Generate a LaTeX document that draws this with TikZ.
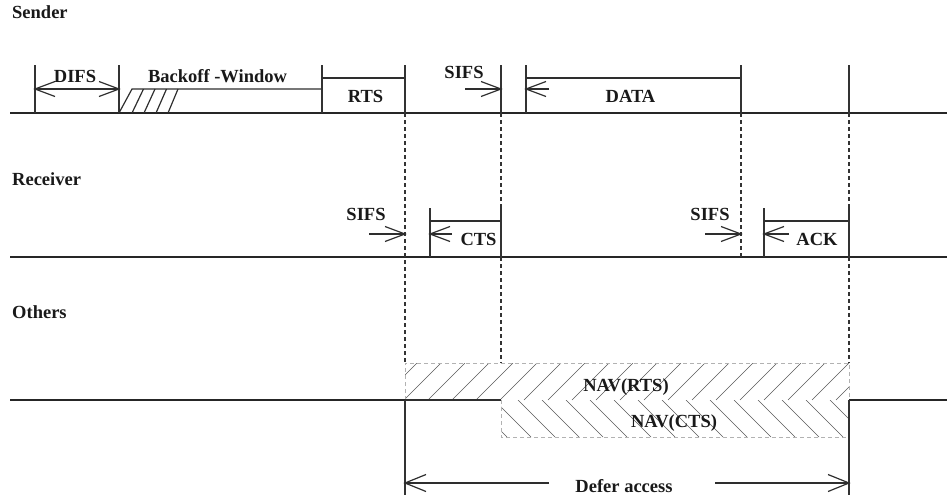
\documentclass[tikz,border=0pt]{standalone}
\usepackage{fontspec}
\setmainfont{Liberation Serif}
\begin{document}
\begin{tikzpicture}[x=1pt,y=-1pt,
  lbl/.style={font=\fontsize{18.5}{20}\selectfont\bfseries, inner sep=0pt, text=black!90, anchor=base},
  lblw/.style={lbl, anchor=base west},
  axis/.style={line width=2.4pt, black!85},
  tick/.style={line width=1.2pt, black!80},
  thinl/.style={line width=1.2pt, black!82},
  dline/.style={line width=1.2pt, black!80, dash pattern=on 4pt off 3pt},
  navb/.style={line width=0.6pt, black!30, dash pattern=on 4pt off 3pt},
  hatch/.style={line width=0.6pt, black!65},
  vright/.pic={\draw[thinl, line join=miter] (-20,-7.5) -- (0,0) -- (-20,7.5);},
  vleft/.pic={\draw[thinl, line join=miter] (20,-7.5) -- (0,0) -- (20,7.5);},
  bigright/.pic={\draw[thinl, line join=miter] (-21,-8.5) -- (0,0) -- (-21,8.5);},
  bigleft/.pic={\draw[thinl, line join=miter] (21,-8.5) -- (0,0) -- (21,8.5);},
]
\useasboundingbox (0,0) rectangle (947,499);

% ---------- named coordinates ----------
\coordinate (difsA) at (35,89);   \coordinate (difsB) at (119,89);
\coordinate (sifsS0) at (465,89); \coordinate (sifsS1) at (501,89);
\coordinate (dataT0) at (549,89); \coordinate (dataT1) at (526,89);
\coordinate (sifsR0) at (369,234);\coordinate (sifsR1) at (405,234);
\coordinate (ctsT0) at (452,234); \coordinate (ctsT1) at (430,234);
\coordinate (sifsQ0) at (705,234);\coordinate (sifsQ1) at (741,234);
\coordinate (ackT0) at (789,234); \coordinate (ackT1) at (764,234);
\coordinate (defL0) at (549,483); \coordinate (defL1) at (405,483);
\coordinate (defR0) at (715,483); \coordinate (defR1) at (849,483);

% ---------- NAV hatched areas ----------
\begin{scope}
  \clip (405,363) rectangle (849,400);
  \foreach \i in {0,...,21} \draw[hatch] (380+24*\i,400) -- ++(37,-37);
\end{scope}
\begin{scope}
  \clip (501,400) rectangle (849,437);
  \foreach \i in {0,...,16} \draw[hatch] (470+24*\i,400) -- ++(37,37);
\end{scope}
\draw[navb] (405,400) -- (405,363) -- (849,363) -- (849,400);
\draw[navb] (501,400) -- (501,437) -- (849,437);

% ---------- time lines ----------
\draw[axis] (10,113) -- (947,113);
\draw[axis] (10,257) -- (947,257);
\draw[axis] (10,400) -- (405,400);
\draw[axis] (849,400) -- (947,400);
\draw[thinl] (405,400) -- (501,400);

% ---------- dashed guides ----------
\draw[dline] (405,113) -- (405,363);
\draw[dline] (501,113) -- (501,208);
\draw[dline] (501,257) -- (501,363);
\draw[dline] (741,113) -- (741,257);
\draw[dline] (849,113) -- (849,208);
\draw[dline] (849,257) -- (849,363);

% ---------- Sender ----------
\draw[tick] (35,65) -- (35,113);
\draw[tick] (119,65) -- (119,113);
\draw[thinl] (difsA) -- (difsB);
\pic at (difsA) {vleft}; \pic at (difsB) {vright};
\draw[thinl] (119,113) -- (132,89) -- (322,89);
\foreach \i in {1,...,4} \draw[thinl] (120+12*\i,113) -- (132+11.5*\i,89);
\draw[tick] (322,65) -- (322,113);
\draw[thinl] (322,78) -- (405,78);
\draw[tick] (405,65) -- (405,113);
\draw[tick] (501,65) -- (501,113);
\draw[thinl] (sifsS0) -- (sifsS1); \pic at (sifsS1) {vright};
\draw[tick] (526,65) -- (526,113);
\draw[thinl] (526,78) -- (741,78);
\draw[tick] (741,65) -- (741,113);
\draw[thinl] (dataT0) -- (dataT1); \pic at (dataT1) {vleft};
\draw[tick] (849,65) -- (849,113);

\node[lblw] (sender) at (12,18) {Sender};
\node[lbl] (difs) at (75,82) {DIFS};
\node[lbl] (backoff) at (217.5,82) {Backoff -Window};
\node[lbl] (rts) at (365.5,102) {RTS};
\node[lbl] (sifs1) at (464,78) {SIFS};
\node[lbl] (data) at (630.5,102) {DATA};

% ---------- Receiver ----------
\draw[thinl] (sifsR0) -- (sifsR1); \pic at (sifsR1) {vright};
\draw[tick] (430,208) -- (430,257);
\draw[thinl] (430,221) -- (501,221);
\draw[tick] (501,208) -- (501,257);
\draw[thinl] (ctsT0) -- (ctsT1); \pic at (ctsT1) {vleft};
\draw[thinl] (sifsQ0) -- (sifsQ1); \pic at (sifsQ1) {vright};
\draw[tick] (764,208) -- (764,257);
\draw[thinl] (764,221) -- (849,221);
\draw[tick] (849,208) -- (849,257);
\draw[thinl] (ackT0) -- (ackT1); \pic at (ackT1) {vleft};

\node[lblw] (receiver) at (12,185) {Receiver};
\node[lbl] (sifs2) at (366,220) {SIFS};
\node[lbl] (cts) at (478.5,245) {CTS};
\node[lbl] (sifs3) at (710,220) {SIFS};
\node[lbl] (ack) at (817,245) {ACK};

% ---------- Others ----------
\node[lblw] (others) at (12,318) {Others};
\node[lbl] (navrts) at (626,391) {NAV(RTS)};
\node[lbl] (navcts) at (674,427) {NAV(CTS)};

\draw[tick] (405,400) -- (405,495);
\draw[tick] (849,400) -- (849,495);
\draw[thinl] (defL0) -- (defL1); \pic at (defL1) {bigleft};
\draw[thinl] (defR0) -- (defR1); \pic at (defR1) {bigright};
\node[lbl] (defer) at (624,492) {Defer access};
\end{tikzpicture}
\end{document}
